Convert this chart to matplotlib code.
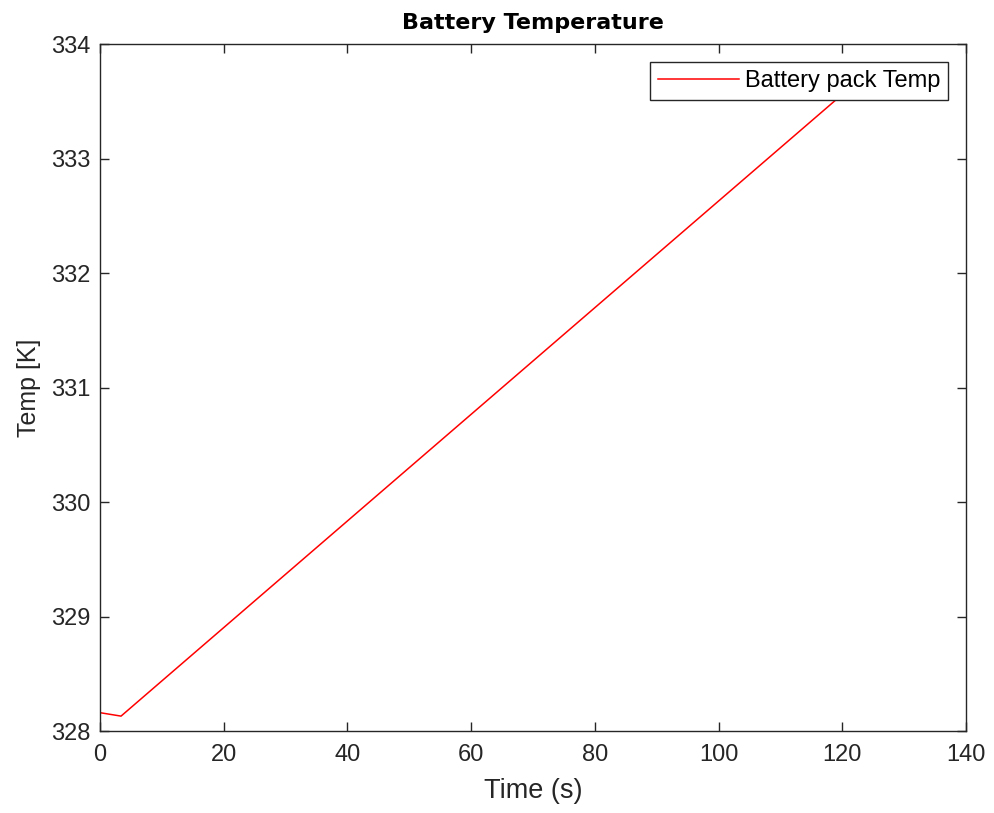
import matplotlib
matplotlib.use("Agg")
import matplotlib.pyplot as plt

# values
time_s = [0, 3.4, 120]
temp_k = [328.16, 328.13, 333.56]
x_ticks = [0, 20, 40, 60, 80, 100, 120, 140]
y_ticks = [328, 329, 330, 331, 332, 333, 334]

plt.rcParams['font.family'] = ['Liberation Sans', 'DejaVu Sans']
axis_col = '#262626'

fig = plt.figure(figsize=(9.95, 8.13), dpi=100)
# axes box: x 100..966 px, y 44..731 px
ax = fig.add_axes([100 / 995, (813 - 731) / 813, 866 / 995, 687 / 813])

ax.plot(time_s, temp_k, color='red', linewidth=1.1, label='Battery pack Temp')

ax.set_xlim(0, 140)
ax.set_ylim(328, 334)
ax.set_xticks(x_ticks)
ax.set_yticks(y_ticks)
ax.tick_params(direction='in', top=True, right=True, length=6.5, width=1,
               colors=axis_col, labelsize=17, labelcolor=axis_col)
ax.tick_params(axis='x', pad=9)
ax.tick_params(axis='y', pad=7)
for s in ax.spines.values():
    s.set_color(axis_col)
    s.set_linewidth(1)

ax.set_xlabel('Time (s)', fontsize=19.5, color=axis_col, labelpad=9)
ax.set_ylabel('Temp [K]', fontsize=18, color=axis_col, labelpad=7)
ax.set_title('Battery Temperature', fontsize=16, fontweight='bold',
             family='DejaVu Sans', pad=11)

leg = ax.legend(loc='upper right', fontsize=17, fancybox=False, framealpha=1,
                edgecolor=axis_col, handlelength=3.4, handletextpad=0.25,
                borderpad=0.35, borderaxespad=0.75)
leg.get_frame().set_linewidth(1)

fig.savefig('out.png', dpi=100)
